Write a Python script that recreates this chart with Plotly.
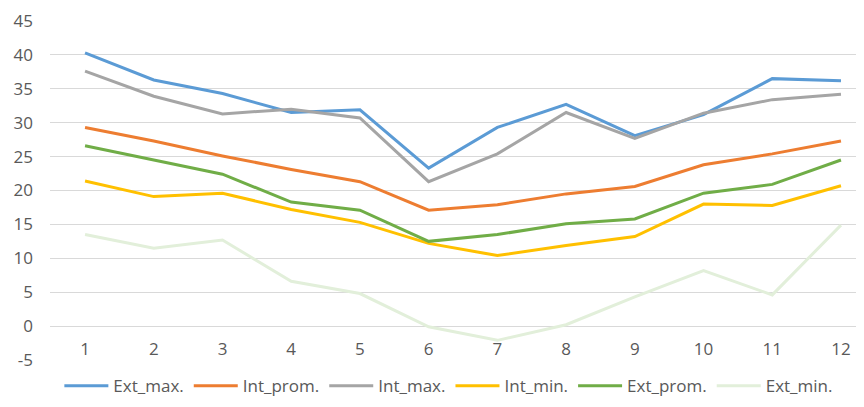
import plotly.graph_objects as go

months = [1, 2, 3, 4, 5, 6, 7, 8, 9, 10, 11, 12]
ext_max = [40.3, 36.3, 34.3, 31.5, 31.9, 23.3, 29.3, 32.7, 28.1, 31.2, 36.5, 36.2]
int_prom = [29.3, 27.3, 25.1, 23.1, 21.3, 17.1, 17.9, 19.5, 20.6, 23.8, 25.4, 27.3]
int_max = [37.6, 33.9, 31.3, 32.0, 30.7, 21.3, 25.4, 31.5, 27.7, 31.4, 33.4, 34.2]
int_min = [21.4, 19.1, 19.6, 17.2, 15.3, 12.2, 10.4, 11.9, 13.2, 18.0, 17.8, 20.7]
ext_prom = [26.6, 24.5, 22.4, 18.3, 17.1, 12.5, 13.5, 15.1, 15.8, 19.6, 20.9, 24.5]
ext_min = [13.5, 11.5, 12.7, 6.6, 4.8, -0.1, -2.1, 0.2, 4.3, 8.2, 4.6, 14.9]

series = [
    ("Ext_max.", ext_max, "#5B9BD5"),
    ("Int_prom.", int_prom, "#ED7D31"),
    ("Int_max.", int_max, "#A5A5A5"),
    ("Int_min.", int_min, "#FFC000"),
    ("Ext_prom.", ext_prom, "#70AD47"),
    ("Ext_min.", ext_min, "#E2EFDA"),
]

y_ticks = [-5, 0, 5, 10, 15, 20, 25, 30, 35, 40, 45]
y_labels = ["-5", "0", "5", "10", "15", "20", "25", "30", "35", "40", "45"]

fig = go.Figure()
for name, vals, col in series:
    fig.add_trace(go.Scatter(x=months, y=vals, mode="lines", name=name,
                             line=dict(color=col, width=3)))

font_col = "#595959"
fig.update_layout(
    width=864, height=407,
    margin=dict(l=42, r=8, t=13, b=55, autoexpand=False),
    plot_bgcolor="white", paper_bgcolor="white",
    font=dict(family="Open Sans", size=17, color=font_col),
    legend=dict(orientation="h", x=0.49, xanchor="center", y=-0.077, yanchor="middle",
                font=dict(size=17, color=font_col), tracegroupgap=0, itemwidth=44),
    xaxis=dict(range=[0.49, 12.335], tickmode="array", tickvals=months,
               ticktext=[str(m) for m in months], showgrid=False, zeroline=False,
               showline=False, anchor="free", position=0.1, ticks="",
               ticklabelstandoff=11, automargin=False),
    yaxis=dict(range=[-5, 45], tickmode="array", tickvals=y_ticks, ticktext=y_labels,
               showgrid=True, gridcolor="#D9D9D9", gridwidth=1, zeroline=False,
               showline=False, ticks="", ticklabelstandoff=16, automargin=False),
)

fig.write_html("out.html")
